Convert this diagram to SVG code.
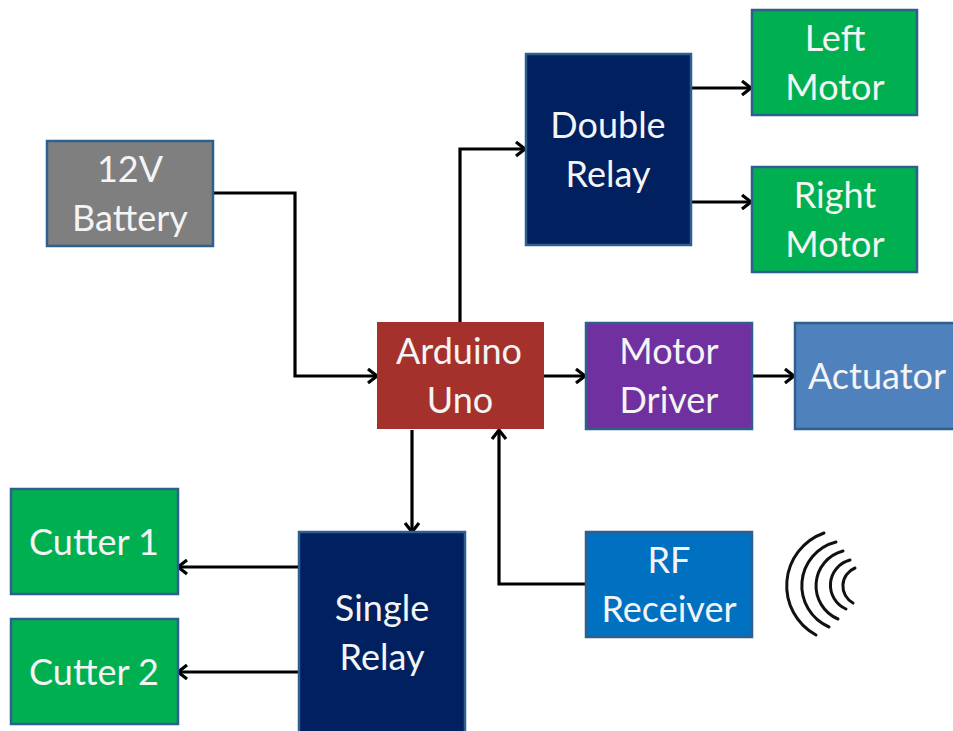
<svg xmlns="http://www.w3.org/2000/svg" width="953" height="731" viewBox="0 0 953 731">
<style>
.b{stroke:#2f5f8f;stroke-width:2.5}
.t{font-family:"Lato","Open Sans",sans-serif;font-size:36px;fill:#f4f4f4;text-anchor:middle}
.c{fill:none;stroke:#000;stroke-width:3.2}
.w{fill:none;stroke:#111;stroke-width:3;stroke-linecap:round}
</style>
<defs>
<marker id="a" markerUnits="userSpaceOnUse" markerWidth="18" markerHeight="18" refX="15" refY="9" orient="auto"><path d="M6 2L15 9L6 16" fill="none" stroke="#000" stroke-width="3.2"/></marker>
</defs>
<rect width="953" height="731" fill="#fff"/>
<g id="connectors">
<path class="c" marker-end="url(#a)" d="M214 193H295V376H377"/>
<path class="c" marker-end="url(#a)" d="M460 322V149H525"/>
<path class="c" marker-end="url(#a)" d="M691 88H751"/>
<path class="c" marker-end="url(#a)" d="M691 202H751"/>
<path class="c" marker-end="url(#a)" d="M544 376H585"/>
<path class="c" marker-end="url(#a)" d="M752 376H794"/>
<path class="c" marker-end="url(#a)" d="M412 430V532"/>
<path class="c" marker-end="url(#a)" d="M585 584H499V430"/>
<path class="c" marker-end="url(#a)" d="M298 567H178"/>
<path class="c" marker-end="url(#a)" d="M298 672H178"/>
</g>
<g id="battery"><rect class="b" x="47" y="141" width="166" height="105" fill="#7f7f7f"/><text class="t" x="130" y="182">12V</text><text class="t" x="130" y="231">Battery</text></g>
<g id="double-relay"><rect class="b" x="526" y="54" width="165" height="191" fill="#002060"/><text class="t" x="608" y="138">Double</text><text class="t" x="608" y="187">Relay</text></g>
<g id="left-motor"><rect class="b" x="752" y="10" width="165" height="105" fill="#00b050"/><text class="t" x="835" y="51">Left</text><text class="t" x="835" y="100">Motor</text></g>
<g id="right-motor"><rect class="b" x="752" y="167" width="165" height="105" fill="#00b050"/><text class="t" x="835" y="208">Right</text><text class="t" x="835" y="257">Motor</text></g>
<g id="arduino"><rect x="377" y="322" width="167" height="107" fill="#a5312d"/><text class="t" x="459" y="364">Arduino</text><text class="t" x="460" y="413">Uno</text></g>
<g id="motor-driver"><rect class="b" x="586" y="323" width="166" height="106" fill="#7030a0"/><text class="t" x="669" y="364">Motor</text><text class="t" x="669" y="413">Driver</text></g>
<g id="actuator"><rect class="b" x="795" y="323" width="160" height="106" fill="#4f81bd"/><text class="t" x="877" y="389">Actuator</text></g>
<g id="cutter-1"><rect class="b" x="11" y="489" width="167" height="105" fill="#00b050"/><text class="t" x="94" y="555">Cutter 1</text></g>
<g id="cutter-2"><rect class="b" x="11" y="619" width="167" height="105" fill="#00b050"/><text class="t" x="94" y="685">Cutter 2</text></g>
<g id="single-relay"><rect class="b" x="299" y="532" width="166" height="202" fill="#002060"/><text class="t" x="382" y="621">Single</text><text class="t" x="382" y="670">Relay</text></g>
<g id="rf-receiver"><rect class="b" x="586" y="532" width="166" height="105" fill="#0070c0"/><text class="t" x="669" y="573">RF</text><text class="t" x="669" y="622">Receiver</text></g>
<g id="waves">
<path class="w" d="M824 533A56 56 0 0 0 816 635"/>
<path class="w" d="M836 542A45 45 0 0 0 829 627"/>
<path class="w" d="M843 551A36 36 0 0 0 838 619"/>
<path class="w" d="M850 560A26 26 0 0 0 846 609"/>
<path class="w" d="M855 568A19.4 19.4 0 0 0 853 603"/>
</g>
</svg>
